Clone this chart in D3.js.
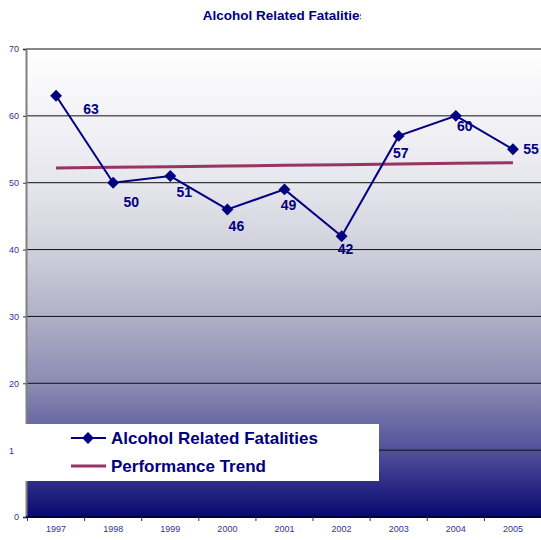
<!DOCTYPE html>
<html>
<head>
<meta charset="utf-8">
<script src="https://cdn.jsdelivr.net/npm/d3@7"></script>
<style>
  body { margin: 0; background: #fff; }
  svg { display: block; font-family: "Liberation Sans", Arial, sans-serif; }
</style>
</head>
<body>
<svg width="541" height="540"></svg>
<script>
// Data
var years = ['1997', '1998', '1999', '2000', '2001', '2002', '2003', '2004', '2005'];
var fatalities = [63, 50, 51, 46, 49, 42, 57, 60, 55];
var trend = [52.2, 52.3, 52.4, 52.5, 52.6, 52.7, 52.8, 52.9, 53.0];
var yTicks = [0, 10, 20, 30, 40, 50, 60, 70];
var seriesNames = ['Alcohol Related Fatalities', 'Performance Trend'];

// Layout: hand-placed label nudges, as in the original
var labelNudge = [[35, 13], [18, 19], [14, 16], [9, 17], [4, 16], [4, 13], [2, 17], [9, 10], [18, 0]];

var navy = '#000080';
var plum = '#993366';
var svg = d3.select('svg');
var plotLeft = 26, plotRight = 541, plotTop = 49, plotBottom = 517;

var x = d3.scaleBand().domain(years).range([plotLeft + 1.5, plotRight + 0.5]);
var y = d3.scaleLinear().domain([0, 70]).range([plotBottom, plotTop]);

// Plot area gradient
var defs = svg.append('defs');
var grad = defs.append('linearGradient').attr('id', 'bg')
  .attr('x1', 0).attr('y1', 0).attr('x2', 0).attr('y2', 1);
[[0, '#ffffff'], [0.14, '#f3f3f7'], [0.29, '#e6e6ed'], [0.43, '#d0d0dc'],
 [0.57, '#b0b0c8'], [0.72, '#8a8ab2'], [0.86, '#50509a'], [1, '#080870']]
  .forEach(s => grad.append('stop').attr('offset', s[0]).attr('stop-color', s[1]));

svg.append('rect')
  .attr('x', plotLeft).attr('y', plotTop)
  .attr('width', plotRight - plotLeft).attr('height', plotBottom - plotTop)
  .attr('fill', 'url(#bg)');

// Title, clipped like the original
defs.append('clipPath').attr('id', 'titleClip')
  .append('rect').attr('x', 0).attr('y', 0).attr('width', 361).attr('height', 40);
svg.append('text')
  .attr('clip-path', 'url(#titleClip)')
  .attr('x', 285).attr('y', 20)
  .attr('text-anchor', 'middle')
  .attr('font-size', 13.5).attr('font-weight', 'bold')
  .attr('fill', navy)
  .text('Alcohol Related Fatalities');

// Gridlines
svg.append('g').selectAll('line')
  .data(yTicks.filter(d => d > 0)).enter()
  .append('line')
  .attr('x1', plotLeft).attr('x2', plotRight)
  .attr('y1', d => y(d)).attr('y2', d => y(d))
  .attr('stroke', '#111').attr('stroke-width', 1);

// Axes
var yAxis = d3.axisLeft(y).tickValues(yTicks).tickSize(3).tickPadding(4);
var gy = svg.append('g').attr('transform', 'translate(' + plotLeft + ',0)').call(yAxis);
gy.select('.domain').attr('stroke', '#808080').attr('stroke-width', 2);
gy.selectAll('.tick line').attr('stroke', '#333');
gy.selectAll('.tick text').attr('fill', '#333399').attr('font-size', 9)
  .attr('font-family', '"Liberation Sans", Arial, sans-serif');

var xAxis = d3.axisBottom(x).tickSize(0).tickPadding(9);
var gx = svg.append('g').attr('transform', 'translate(0,' + plotBottom + ')').call(xAxis);
gx.select('.domain').remove();
gx.selectAll('.tick text').attr('fill', '#333399').attr('font-size', 9)
  .attr('font-family', '"Liberation Sans", Arial, sans-serif');
svg.append('line')
  .attr('x1', plotLeft).attr('x2', plotRight).attr('y1', plotBottom).attr('y2', plotBottom)
  .attr('stroke', '#000040').attr('stroke-width', 2);
// category separator ticks
svg.append('g').selectAll('line')
  .data(years).enter()
  .append('line')
  .attr('x1', d => x(d)).attr('x2', d => x(d))
  .attr('y1', plotBottom).attr('y2', plotBottom + 4)
  .attr('stroke', '#333');

var cx = (d, i) => x(years[i]) + x.bandwidth() / 2;

// Trend line
svg.append('path')
  .datum(trend)
  .attr('fill', 'none')
  .attr('stroke', plum)
  .attr('stroke-width', 3)
  .attr('d', d3.line().x(cx).y(d => y(d)));

// Fatalities line
svg.append('path')
  .datum(fatalities)
  .attr('fill', 'none')
  .attr('stroke', navy)
  .attr('stroke-width', 2)
  .attr('d', d3.line().x(cx).y(d => y(d)));

var diamond = d3.symbol().type(d3.symbolDiamond2 || d3.symbolDiamond).size(90);
svg.append('g').selectAll('path')
  .data(fatalities).enter()
  .append('path')
  .attr('d', diamond)
  .attr('fill', navy)
  .attr('transform', (d, i) => 'translate(' + cx(d, i) + ',' + y(d) + ')');

// Data labels
svg.append('g').selectAll('text')
  .data(fatalities).enter()
  .append('text')
  .attr('x', (d, i) => cx(d, i) + labelNudge[i][0])
  .attr('y', (d, i) => y(d) + labelNudge[i][1])
  .attr('text-anchor', 'middle')
  .attr('dominant-baseline', 'central')
  .attr('font-size', 14).attr('font-weight', 'bold')
  .attr('fill', navy)
  .text(d => d);

// Legend
var legend = svg.append('g');
legend.append('rect')
  .attr('x', 14).attr('y', 424).attr('width', 365).attr('height', 57)
  .attr('fill', '#fff');
seriesNames.forEach((name, i) => {
  var ly = 438 + i * 28;
  legend.append('line')
    .attr('x1', 71).attr('x2', 106).attr('y1', ly).attr('y2', ly)
    .attr('stroke', i === 0 ? navy : plum)
    .attr('stroke-width', i === 0 ? 2 : 3);
  if (i === 0) {
    legend.append('path').attr('d', diamond).attr('fill', navy)
      .attr('transform', 'translate(88,' + ly + ')');
  }
  legend.append('text')
    .attr('x', 111).attr('y', ly)
    .attr('dominant-baseline', 'central')
    .attr('font-size', 17).attr('font-weight', 'bold')
    .attr('fill', navy)
    .text(name);
});
</script>
</body>
</html>
